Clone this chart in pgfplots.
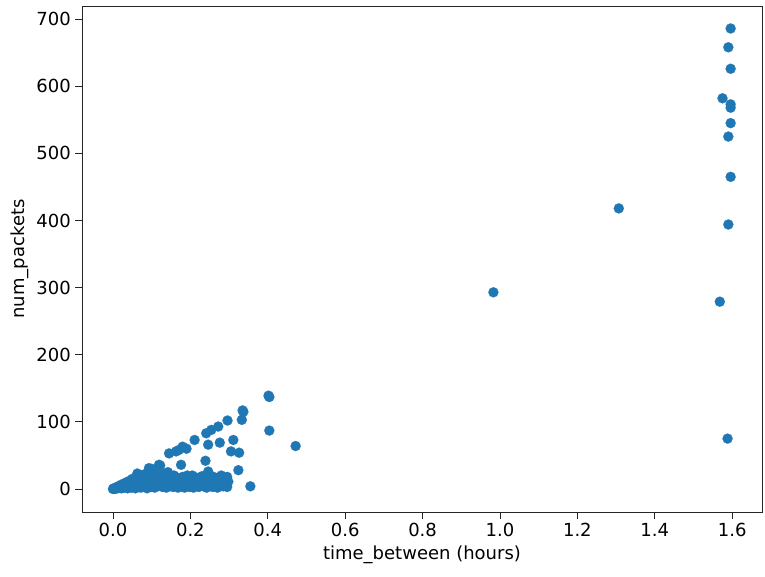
\documentclass[border=0pt]{standalone}
\usepackage{fontspec}
\setmainfont{DejaVu Sans}
\usepackage{pgfplots}
\pgfplotsset{compat=1.18}
\definecolor{tabblue}{HTML}{1F77B4}

\begin{document}
\begin{tikzpicture}
\path[use as bounding box] (-61.5pt,-48pt) rectangle (512.25pt,384pt);
\begin{axis}[
  scale only axis,width=510pt,height=379.5pt,
  xmin=-0.08,xmax=1.677,ymin=-34.3,ymax=719.5,
  xtick={0,0.2,...,1.6},ytick={0,100,...,700},
  xticklabel style={/pgf/number format/.cd,fixed,fixed zerofill,precision=1},
  /pgf/number format/assume math mode=true,
  tick label style={font=\fontsize{13.5}{15}\selectfont},
  label style={font=\fontsize{13.5}{15}\selectfont},
  tick align=outside,major tick length=4.9pt,
  xtick pos=bottom,ytick pos=left,
  xlabel={time\_between (hours)},ylabel={num\_packets},
  xlabel style={yshift=0pt},
  ylabel style={yshift=-1pt},
  axis line style={black!85,line width=0.6pt},
  every tick/.style={black!85,line width=0.6pt}]
\addplot[only marks,mark=*,mark size=3.8pt,color=tabblue,mark options={solid,draw=tabblue,fill=tabblue,line width=0.1pt}] coordinates {
(0.000,0)(0.002,1)(0.005,0)(0.008,2)(0.010,3)(0.012,1)(0.015,4)(0.018,2)(0.020,6)(0.022,1)
(0.025,3)(0.028,8)(0.030,2)(0.032,5)(0.035,10)(0.038,1)(0.040,4)(0.042,12)(0.045,7)(0.048,2)
(0.050,15)(0.052,5)(0.055,9)(0.058,1)(0.060,18)(0.062,3)(0.065,12)(0.068,6)(0.070,20)(0.072,2)
(0.075,10)(0.078,15)(0.080,4)(0.082,22)(0.085,8)(0.088,1)(0.090,12)(0.092,25)(0.095,6)(0.098,16)
(0.100,30)(0.100,3)(0.103,10)(0.105,20)(0.108,2)(0.110,14)(0.112,28)(0.115,5)(0.118,18)(0.120,8)
(0.122,35)(0.125,12)(0.128,3)(0.130,22)(0.132,7)(0.135,15)(0.138,2)(0.140,10)(0.142,25)(0.145,5)
(0.148,18)(0.150,8)(0.152,12)(0.155,3)(0.158,20)(0.160,6)(0.162,14)(0.165,10)(0.168,2)(0.170,16)
(0.172,7)(0.175,12)(0.178,4)(0.180,18)(0.182,9)(0.185,2)(0.188,13)(0.190,6)(0.192,20)(0.195,10)
(0.198,3)(0.200,15)(0.202,7)(0.205,11)(0.208,2)(0.210,18)(0.212,5)(0.215,12)(0.218,8)(0.220,16)
(0.222,3)(0.225,10)(0.228,6)(0.230,14)(0.235,4)(0.238,9)(0.240,12)(0.242,2)(0.245,7)(0.248,15)
(0.250,5)(0.255,10)(0.258,3)(0.260,13)(0.265,6)(0.268,11)(0.270,2)(0.275,8)(0.280,13)(0.285,4)
(0.288,10)(0.290,15)(0.292,7)(0.295,3)(0.298,11)
(0.135,18)(0.155,14)(0.185,16)(0.205,20)(0.230,19)(0.260,18)(0.280,20)(0.295,18)(0.265,16)
(0.063,23)(0.093,31)(0.119,36)(0.145,53)(0.163,56)(0.180,63)(0.176,36)(0.170,58)(0.190,60)
(0.211,73)(0.241,83)(0.254,88)(0.272,93)(0.296,102)(0.333,103)(0.337,115)(0.335,117)
(0.404,137)(0.402,139)(0.404,87)(0.472,64)(0.355,4)(0.246,66)(0.276,69)(0.311,73)
(0.305,56)(0.326,54)(0.324,28)(0.239,42)(0.289,13)(0.254,11)(0.220,16)(0.246,26)
(0.983,293)(1.307,418)
(1.596,686)(1.590,658)(1.596,626)(1.575,582)(1.596,573)(1.596,568)(1.596,545)(1.590,525)
(1.596,465)(1.590,394)(1.568,279)(1.588,75)
};
\end{axis}
\end{tikzpicture}
\end{document}
